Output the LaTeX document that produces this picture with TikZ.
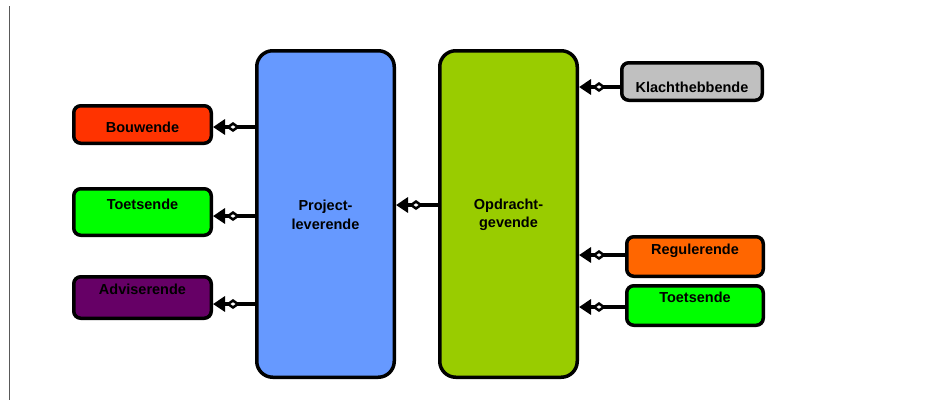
\documentclass[tikz,border=0pt]{standalone}
\usepackage{fontspec}
\setmainfont{Liberation Sans}
\usetikzlibrary{arrows.meta}
\definecolor{cblue}{HTML}{6699FF}
\definecolor{cgreen}{HTML}{99CC00}
\definecolor{cred}{HTML}{FF3300}
\definecolor{clime}{HTML}{00FF00}
\definecolor{cpurple}{HTML}{660066}
\definecolor{cgrey}{HTML}{C0C0C0}
\definecolor{corange}{HTML}{FF6600}
\begin{document}
\begin{tikzpicture}[x=1pt,y=-1pt,
  box/.style={draw=black,line width=3.5pt,rounded corners=7pt,inner sep=0pt},
  big/.style={box,rounded corners=16pt,minimum width=137.5pt,minimum height=326.5pt},
  lbl/.style={font=\fontsize{14.5}{18.6}\selectfont\bfseries,inner sep=0pt,align=center},
  arr/.style={line width=3.5pt,-{Diamond[open,fill=white,length=14pt,width=10pt,line width=2.5pt,sep=1pt] Triangle[length=12pt,width=15pt]}}]
\useasboundingbox (0,0) rectangle (932,400);
\draw[black!65, line width=1pt] (9.5,6) -- (9.5,400);
% big boxes
\node[big,fill=cblue] (proj) at (325.5,214) {};
\node[big,fill=cgreen] (opdr) at (508.5,214) {};
\node[lbl] (projt) at (325.5,214.7) {Project-\\leverende};
\node[lbl] (opdrt) at (508.5,214.7) {Opdracht-\\gevende};
% left boxes
\node[box,fill=cred,minimum width=137.5pt,minimum height=37.5pt] (bouw) at (142.5,124.5) {};
\node[box,fill=clime,minimum width=137.5pt,minimum height=46.5pt] (toetsl) at (142.5,212) {};
\node[box,fill=cpurple,minimum width=137.5pt,minimum height=41.5pt] (adv) at (142.5,297.5) {};
\node[lbl,anchor=base] (bouwt) at (142.5,132.3) {Bouwende};
\node[lbl,anchor=base] (toetslt) at (142.5,209) {Toetsende};
\node[lbl,anchor=base] (advt) at (142.5,294) {Adviserende};
% right boxes
\node[box,fill=cgrey,minimum width=140.5pt,minimum height=37.5pt] (klacht) at (692,81.5) {};
\node[box,fill=corange,minimum width=136.5pt,minimum height=39.5pt] (regu) at (695,256.5) {};
\node[box,fill=clime,minimum width=136.5pt,minimum height=39.5pt] (toetsr) at (695,305.5) {};
\node[lbl,anchor=base] (klachtt) at (692,92.3) {Klachthebbende};
\node[lbl,anchor=base] (regut) at (695,254) {Regulerende};
\node[lbl,anchor=base] (toetsrt) at (695,302.7) {Toetsende};
% connectors
\draw[arr] ([yshift=-2.5pt]bouw.east -| proj.west) -- ([yshift=-2.5pt]bouw.east);
\draw[arr] ([yshift=-4pt]toetsl.east -| proj.west) -- ([yshift=-4pt]toetsl.east);
\draw[arr] ([yshift=-6.5pt]adv.east -| proj.west) -- ([yshift=-6.5pt]adv.east);
\draw[arr] ([yshift=9pt]opdr.west) -- ([yshift=9pt]proj.east);
\draw[arr] ([yshift=-5.5pt]klacht.west) -- ([yshift=-5.5pt]klacht.west -| opdr.east);
\draw[arr] ([yshift=1.5pt]regu.west) -- ([yshift=1.5pt]regu.west -| opdr.east);
\draw[arr] ([yshift=-1.5pt]toetsr.west) -- ([yshift=-1.5pt]toetsr.west -| opdr.east);
\end{tikzpicture}
\end{document}
